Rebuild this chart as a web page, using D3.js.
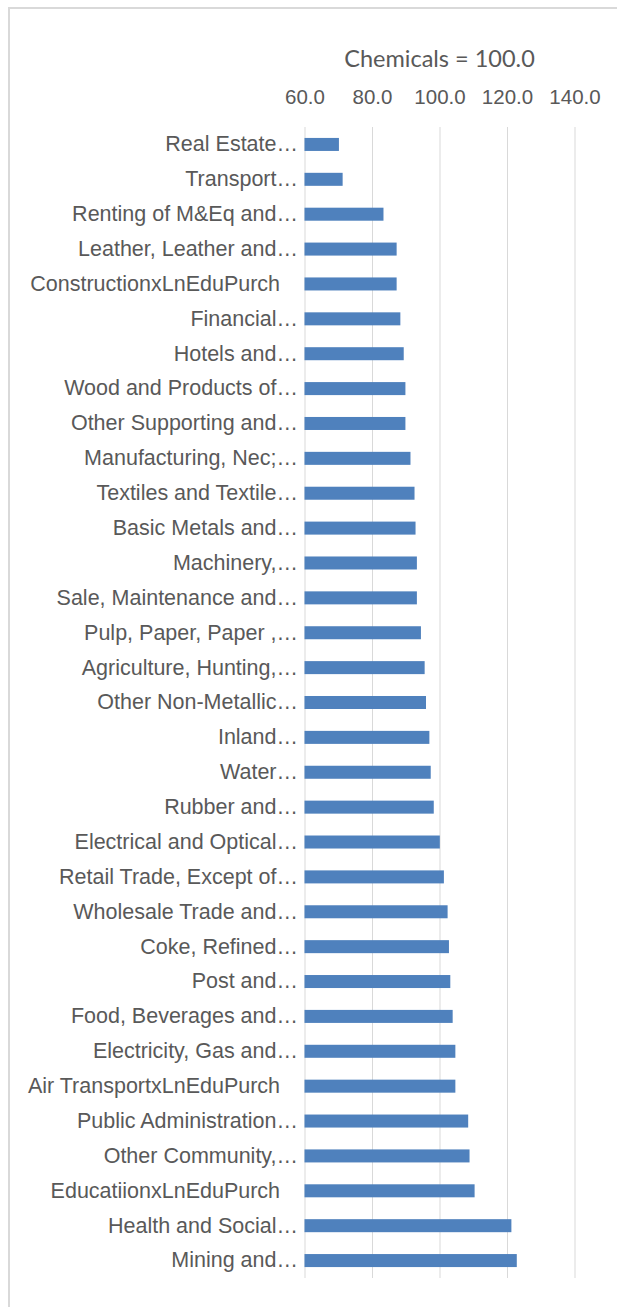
<!DOCTYPE html>
<html>
<head>
<meta charset="utf-8">
<script src="https://cdn.jsdelivr.net/npm/d3@7"></script>
<style>
  html, body { margin: 0; padding: 0; background: #ffffff; }
  svg { display: block; font-family: Lato, "Open Sans", sans-serif; }
  .cat-axis text { white-space: pre; }
</style>
</head>
<body>
<svg id="chart" width="617" height="1307"></svg>
<script>
// Industry categories, top to bottom
const categories = [
  "Real Estate…",
  "Transport…",
  "Renting of M&Eq and…",
  "Leather, Leather and…",
  "ConstructionxLnEduPurch   ",
  "Financial…",
  "Hotels and…",
  "Wood and Products of…",
  "Other Supporting and…",
  "Manufacturing, Nec;…",
  "Textiles and Textile…",
  "Basic Metals and…",
  "Machinery,…",
  "Sale, Maintenance and…",
  "Pulp, Paper, Paper ,…",
  "Agriculture, Hunting,…",
  "Other Non-Metallic…",
  "Inland…",
  "Water…",
  "Rubber and…",
  "Electrical and Optical…",
  "Retail Trade, Except of…",
  "Wholesale Trade and…",
  "Coke, Refined…",
  "Post and…",
  "Food, Beverages and…",
  "Electricity, Gas and…",
  "Air TransportxLnEduPurch   ",
  "Public Administration…",
  "Other Community,…",
  "EducatiionxLnEduPurch   ",
  "Health and Social…",
  "Mining and…"
];

// Index values relative to Chemicals = 100
const values = [
  70.2, 71.3, 83.4, 87.3, 87.3, 88.4, 89.4, 89.9, 89.9, 91.4,
  92.6, 92.9, 93.3, 93.3, 94.5, 95.6, 96.0, 97.0, 97.4, 98.3,
  100.1, 101.3, 102.4, 102.8, 103.2, 103.9, 104.7, 104.7, 108.5, 108.9,
  110.4, 121.3, 122.9
];

const tickValues = [60, 80, 100, 120, 140];
const chartTitle = "Chemicals = 100.0";

const data = categories.map((c, i) => ({ cat: c, val: values[i] }));

const svg = d3.select("#chart");
const textColor = "#595959";
const gridColor = "#d9d9d9";

// Chart area frame
svg.append("rect")
  .attr("x", 9).attr("y", 8)
  .attr("width", 700).attr("height", 1400)
  .attr("fill", "#ffffff")
  .attr("stroke", gridColor)
  .attr("stroke-width", 2);

const plot = { left: 304.5, right: 574.5, top: 127, bottom: 1278 };

const x = d3.scaleLinear().domain([60, 140]).range([plot.left, plot.right]);
const y = d3.scaleBand().domain(categories)
  .range([plot.top, plot.bottom])
  .paddingInner(0.627).paddingOuter(0.3135);

// Vertical gridlines
const grid = svg.append("g")
  .attr("transform", `translate(0,${plot.top})`)
  .call(d3.axisTop(x).tickValues(tickValues)
    .tickSize(-(plot.bottom - plot.top)).tickFormat(""));
grid.select(".domain").remove();
grid.selectAll(".tick line").attr("stroke", gridColor).attr("stroke-width", 1);

// Value axis labels (top)
const xAxis = svg.append("g")
  .attr("transform", `translate(0,${plot.top})`)
  .call(d3.axisTop(x).tickValues(tickValues).tickSize(0).tickPadding(23)
    .tickFormat(d3.format(".1f")));
xAxis.select(".domain").remove();
xAxis.selectAll("text")
  .attr("fill", textColor)
  .style("font-size", "20.5px");

// Title
svg.append("text")
  .attr("x", (plot.left + plot.right) / 2)
  .attr("y", 67)
  .attr("text-anchor", "middle")
  .attr("fill", textColor)
  .style("font-size", "23.5px")
  .text(chartTitle);

// Bars
svg.append("g").selectAll("rect")
  .data(data)
  .join("rect")
  .attr("x", x(60))
  .attr("y", d => y(d.cat))
  .attr("width", d => x(d.val) - x(60))
  .attr("height", y.bandwidth())
  .attr("fill", "#4f81bd");

// Category axis
const yAxis = svg.append("g")
  .attr("class", "cat-axis")
  .attr("transform", `translate(${plot.left},0)`)
  .call(d3.axisLeft(y).tickSize(0).tickPadding(6.5));
yAxis.select(".domain").remove();
yAxis.selectAll("text")
  .attr("fill", textColor)
  .style("font-size", "21.5px");
</script>
</body>
</html>
